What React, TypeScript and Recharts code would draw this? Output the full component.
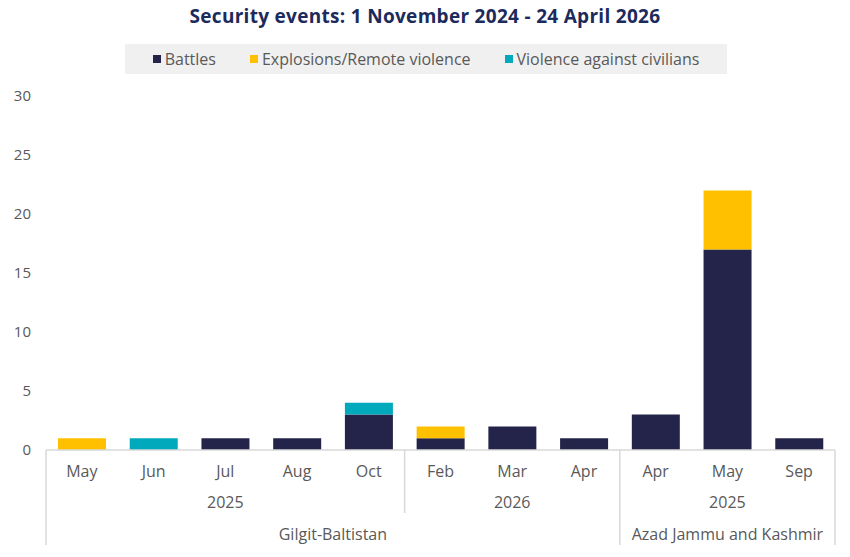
import React from "react";
import { Bar, BarChart, XAxis, YAxis } from "recharts";

const months = ["May", "Jun", "Jul", "Aug", "Oct", "Feb", "Mar", "Apr", "Apr", "May", "Sep"];
const battles = [0, 0, 1, 1, 3, 1, 2, 1, 3, 17, 1];
const explosions = [1, 0, 0, 0, 0, 1, 0, 0, 0, 5, 0];
const civilians = [0, 1, 0, 0, 1, 0, 0, 0, 0, 0, 0];

const yearGroups = [
  { label: "2025", start: 0, end: 4 },
  { label: "2026", start: 5, end: 7 },
  { label: "2025", start: 8, end: 10 },
];
const regionGroups = [
  { label: "Gilgit-Baltistan", start: 0, end: 7 },
  { label: "Azad Jammu and Kashmir", start: 8, end: 10 },
];
const yTicks = [0, 5, 10, 15, 20, 25, 30];

const series = [
  { key: "battles", name: "Battles", color: "#24244a" },
  { key: "explosions", name: "Explosions/Remote violence", color: "#ffc000" },
  { key: "civilians", name: "Violence against civilians", color: "#00a9bc" },
];

const W = 850;
const H = 557;
const Y_W = 46;
const RIGHT = 15;
const X_H = 107;
const AXIS_Y = H - X_H;
const FONT = "'Open Sans', Lato, sans-serif";
const GREY = "#595959";
const LINE = "#d9d9d9";

const data = months.map((m, i) => ({
  month: m,
  battles: battles[i],
  explosions: explosions[i],
  civilians: civilians[i],
}));

function MultiTick(props: any) {
  const { x, payload } = props;
  const i: number = payload.index;
  const bw = (W - Y_W - RIGHT) / months.length;
  const parts: React.ReactNode[] = [];
  parts.push(
    <text key="m" x={x} y={AXIS_Y + 27} textAnchor="middle" fill={GREY} fontSize={16} fontFamily={FONT}>
      {payload.value}
    </text>
  );
  yearGroups.forEach((g, k) => {
    if (g.start === i) {
      const cx = x + ((g.end - g.start) / 2) * bw;
      parts.push(
        <text key={"y" + k} x={cx} y={AXIS_Y + 58} textAnchor="middle" fill={GREY} fontSize={16} fontFamily={FONT}>
          {g.label}
        </text>
      );
      const isRegion = regionGroups.some((r) => r.start === i);
      parts.push(
        <line key={"yl" + k} x1={x - bw / 2} x2={x - bw / 2} y1={AXIS_Y} y2={isRegion ? H - 12 : AXIS_Y + 63} stroke={LINE} strokeWidth={1.5} />
      );
    }
  });
  regionGroups.forEach((g, k) => {
    if (g.start === i) {
      const cx = x + ((g.end - g.start) / 2) * bw;
      parts.push(
        <text key={"r" + k} x={cx} y={AXIS_Y + 90} textAnchor="middle" fill={GREY} fontSize={16} fontFamily={FONT}>
          {g.label}
        </text>
      );
    }
  });
  if (i === months.length - 1) {
    parts.push(
      <line key="end" x1={x + bw / 2} x2={x + bw / 2} y1={AXIS_Y} y2={H - 12} stroke={LINE} strokeWidth={1.5} />
    );
  }
  return <g>{parts}</g>;
}

export default function App() {
  return (
    <div style={{ position: "absolute", left: 0, top: 0, width: W, height: H, background: "#fff", fontFamily: FONT }}>
      <div
        style={{
          position: "absolute",
          top: 3,
          left: 0,
          width: W,
          textAlign: "center",
          fontSize: 19,
          fontWeight: 700,
          letterSpacing: 0.3,
          color: "#1c2a5c",
        }}
      >
        Security events: 1 November 2024 - 24 April 2026
      </div>
      <div
        style={{
          position: "absolute",
          top: 44,
          left: 125,
          width: 602,
          height: 30,
          background: "#f0f0f0",
          display: "flex",
          alignItems: "center",
          justifyContent: "center",
          gap: 34,
          fontSize: 16,
          color: GREY,
        }}
      >
        {series.map((s) => (
          <div key={s.key} style={{ display: "flex", alignItems: "center" }}>
            <span style={{ display: "inline-block", width: 8, height: 8, background: s.color, marginRight: 4 }} />
            {s.name}
          </div>
        ))}
      </div>
      <div style={{ position: "absolute", left: 0, top: 0 }}>
        <BarChart width={W} height={H} data={data} margin={{ top: 96, right: RIGHT, bottom: 0, left: 0 }}>
          <XAxis
            dataKey="month"
            height={X_H}
            interval={0}
            tickLine={false}
            axisLine={{ stroke: LINE, strokeWidth: 1.5 }}
            tick={<MultiTick />}
          />
          <YAxis
            domain={[0, 30]}
            ticks={yTicks}
            width={Y_W}
            axisLine={false}
            tickLine={false}
            tickMargin={9}
            tick={{ fill: GREY, fontSize: 15, fontFamily: FONT }}
          />
          {series.map((s) => (
            <Bar
              key={s.key}
              dataKey={s.key}
              name={s.name}
              stackId="a"
              fill={s.color}
              barSize={48}
              isAnimationActive={false}
            />
          ))}
        </BarChart>
      </div>
    </div>
  );
}
